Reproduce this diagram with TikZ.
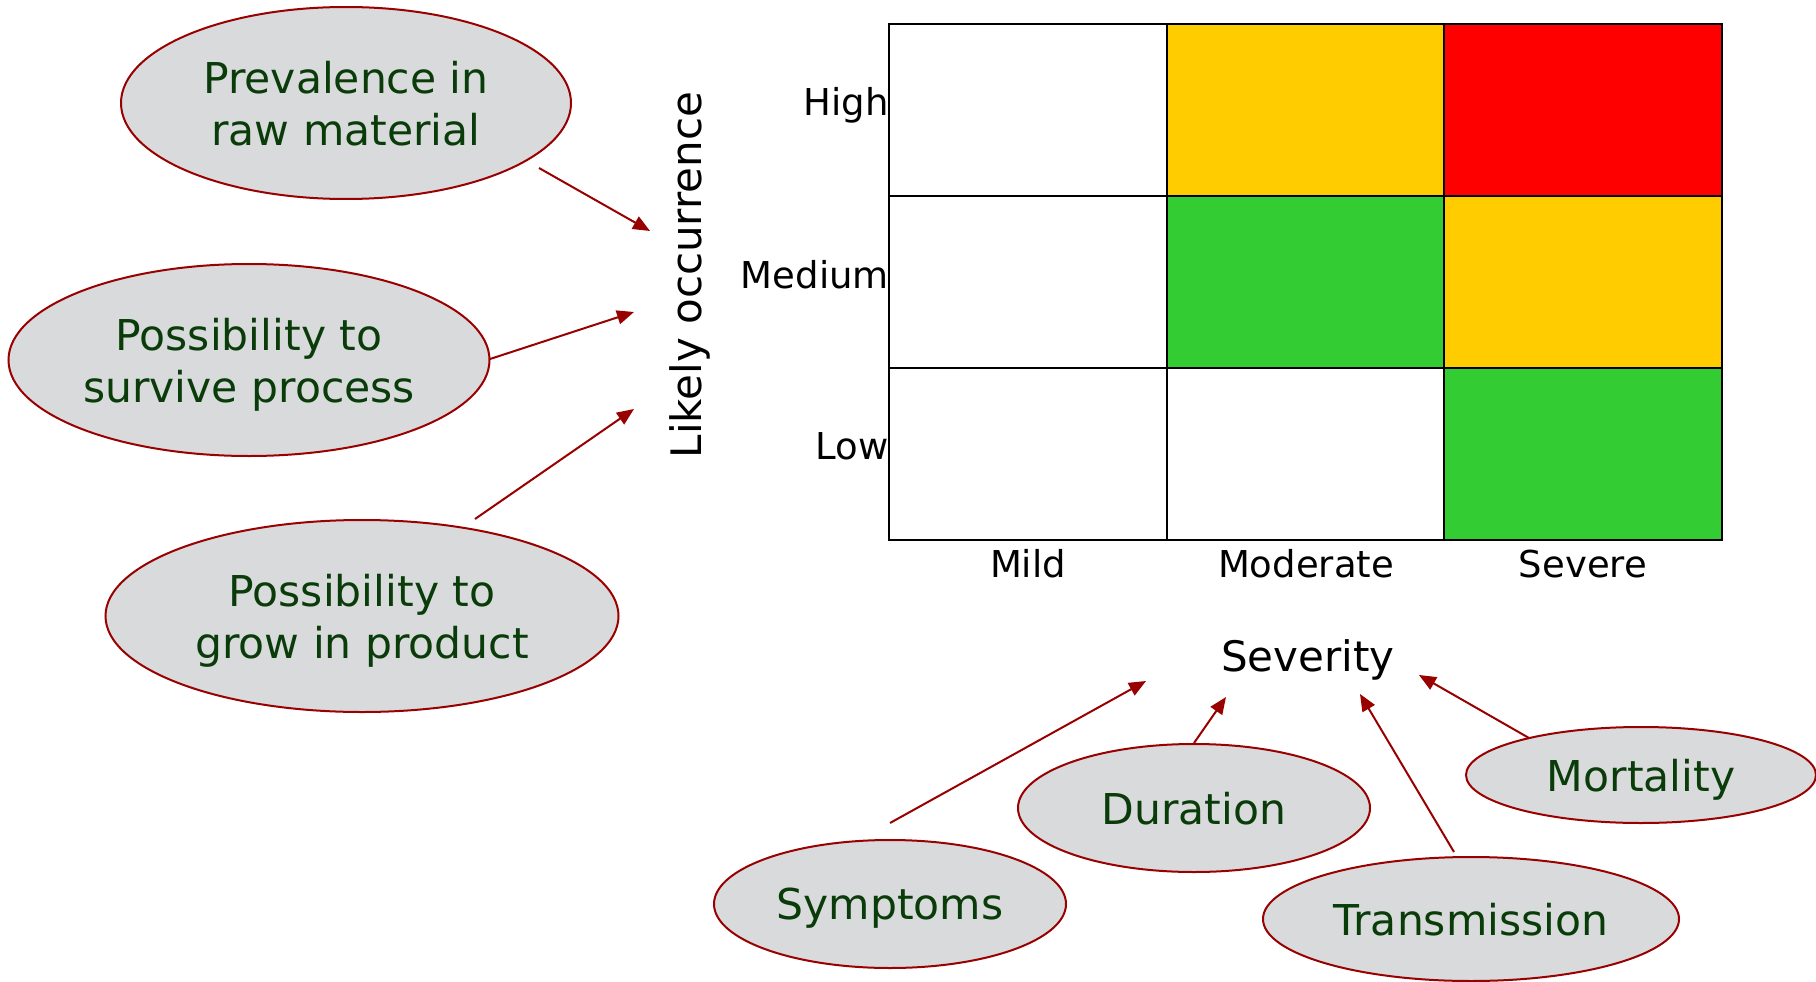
\documentclass[tikz,border=0pt]{standalone}
\usepackage{fontspec}
\setmainfont{DejaVu Sans}
\usetikzlibrary{shapes.geometric,arrows.meta}
\definecolor{bord}{RGB}{153,0,0}
\definecolor{bubblegray}{RGB}{217,218,220}
\definecolor{txtgreen}{RGB}{10,60,10}
\definecolor{cyellow}{RGB}{255,204,0}
\definecolor{cred}{RGB}{255,0,0}
\definecolor{cgreen}{RGB}{51,204,51}
\begin{document}
\begin{tikzpicture}[x=1pt,y=-1pt,
  bubble/.style={ellipse,draw=bord,line width=2pt,fill=bubblegray,inner sep=0pt,
    text=txtgreen,font=\fontsize{42.5}{52}\selectfont,align=center,text depth=0pt},
  link/.style={draw=bord,line width=2pt,-{Triangle[length=17pt,width=14pt]}},
  gridline/.style={draw=black,line width=2.5pt},
  lab/.style={font=\fontsize{37}{44}\selectfont,inner sep=0pt,text=black},
  biglab/.style={font=\fontsize{42}{50}\selectfont,inner sep=0pt,text=black}]
\useasboundingbox (0,0) rectangle (1816,982);
\fill[white] (0,0) rectangle (1816,982);

% matrix cells
\fill[cyellow] (1167,24) rectangle (1444,196);
\fill[cred] (1444,24) rectangle (1722,196);
\fill[cgreen] (1167,196) rectangle (1444,368);
\fill[cyellow] (1444,196) rectangle (1722,368);
\fill[cgreen] (1444,368) rectangle (1722,540);
\draw[gridline] (889,24) rectangle (1722,540);
\draw[gridline] (1167,24) -- (1167,540);
\draw[gridline] (1444,24) -- (1444,540);
\draw[gridline] (889,196) -- (1722,196);
\draw[gridline] (889,368) -- (1722,368);

% axis labels
\node[lab,anchor=base east] (high) at (889,115) {High};
\node[lab,anchor=base east] (medium) at (889,288) {Medium};
\node[lab,anchor=base east] (low) at (889,459) {Low};
\node[lab,anchor=base] (mild) at (1028,577) {Mild};
\node[lab,anchor=base] (moderate) at (1306,577) {Moderate};
\node[lab,anchor=base] (severe) at (1583,577) {Severe};
\node[biglab,anchor=base,rotate=90] (likely) at (701,275) {Likely occurrence};
\node[biglab,anchor=base] (severity) at (1308,671) {Severity};

% bubbles
\node[bubble,minimum width=450pt,minimum height=192pt] (prev) at (346,103) {Prevalence in\\raw material};
\node[bubble,minimum width=481pt,minimum height=192pt] (surv) at (249,360) {Possibility to\\survive process};
\node[bubble,minimum width=513pt,minimum height=192pt] (grow) at (362,616) {Possibility to\\grow in product};
\node[bubble,minimum width=352pt,minimum height=128pt] (symp) at (890,904) {Symptoms};
\node[bubble,minimum width=352pt,minimum height=128pt] (dur) at (1194,808) {Duration};
\node[bubble,minimum width=416pt,minimum height=124pt] (trans) at (1471,919) {Transmission};
\node[bubble,minimum width=350pt,minimum height=96pt] (mort) at (1641,775) {Mortality};

% connector ends
\coordinate (s1) at (539,168);  \coordinate (t1) at (650,231);
\coordinate (s2) at (490,359);  \coordinate (t2) at (634,312);
\coordinate (s3) at (475,519);  \coordinate (t3) at (634,409);
\coordinate (s4) at (890,823);  \coordinate (t4) at (1146,681);
\coordinate (s5) at (1194,743); \coordinate (t5) at (1226,697);
\coordinate (s6) at (1454,852); \coordinate (t6) at (1360,694);
\coordinate (s7) at (1529,738); \coordinate (t7) at (1419,675);

\draw[link] (s1) -- (t1);
\draw[link] (s2) -- (t2);
\draw[link] (s3) -- (t3);
\draw[link] (s4) -- (t4);
\draw[link] (s5) -- (t5);
\draw[link] (s6) -- (t6);
\draw[link] (s7) -- (t7);
\end{tikzpicture}
\end{document}
